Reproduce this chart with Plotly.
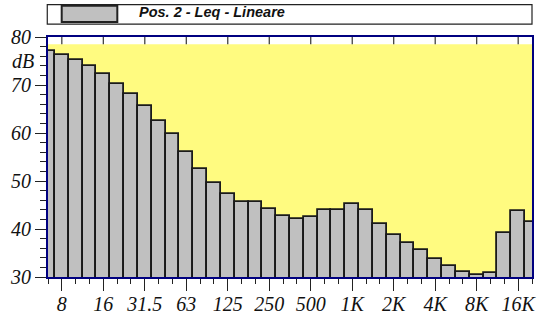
import plotly.graph_objects as go

# 1/3-octave band centres (Hz) and their labels
bands = ["6.3", "8", "10", "12.5", "16", "20", "25", "31.5", "40", "50",
         "63", "80", "100", "125", "160", "200", "250", "315", "400", "500",
         "630", "800", "1K", "1.25K", "1.6K", "2K", "2.5K", "3.15K", "4K", "5K",
         "6.3K", "8K", "10K", "12.5K", "16K", "20K"]
leq_db = [77.1, 76.2, 75.3, 73.9, 72.2, 70.3, 68.2, 65.7, 62.6, 59.7,
          56.0, 52.6, 49.5, 47.2, 45.6, 45.6, 44.1, 42.7, 42.0, 42.6,
          43.9, 43.9, 45.2, 44.0, 41.1, 38.8, 37.0, 35.6, 33.8, 32.2,
          31.0, 30.35, 30.8, 39.2, 43.75, 41.5]
tick_labels = ["8", "16", "31.5", "63", "125", "250", "500", "1K", "2K", "4K", "8K", "16K"]
y_ticks = [30, 40, 50, 60, 70, 80]
series_name = "Pos. 2 - Leq - Lineare"
y_unit = "dB"

x_idx = list(range(len(bands)))
tick_idx = [bands.index(t) for t in tick_labels]

serif = dict(family="Liberation Serif", size=20, color="#111", style="italic")
navy = "#000080"

fig = go.Figure()
fig.add_trace(go.Bar(
    x=x_idx, y=leq_db, name=series_name, width=1,
    marker=dict(color="#c0c0c0", line=dict(color="#1a1a1a", width=1.8)),
    showlegend=False, hovertext=bands,
))

shapes = []
# yellow plotting area (below the top band)
shapes.append(dict(type="rect", xref="paper", yref="y", x0=0, x1=1, y0=30, y1=78.5,
                   fillcolor="#fffb80", line=dict(width=0), layer="below"))
# top band dividers at octave marks
for t in tick_idx:
    shapes.append(dict(type="line", xref="x", yref="y", x0=t, x1=t, y0=78.5, y1=80,
                       line=dict(color="#333", width=1.2), layer="above"))
# legend frame and swatch
shapes.append(dict(type="rect", xref="paper", yref="paper", x0=-0.0015, x1=1.0, y0=1.054, y1=1.1346,
                   fillcolor="white", line=dict(color="#222", width=1.2)))
shapes.append(dict(type="rect", xref="paper", yref="paper", x0=0.0283, x1=0.1432, y0=1.0625, y1=1.1300,
                   fillcolor="#c0c0c0", line=dict(color="#222", width=2)))

fig.update_layout(
    width=540, height=325,
    margin=dict(l=48, r=8, t=37, b=48),
    paper_bgcolor="white", plot_bgcolor="white",
    bargap=0, shapes=shapes,
    annotations=[
        dict(text=series_name, xref="paper", yref="paper", x=0.184, y=1.104,
             xanchor="left", yanchor="middle", showarrow=False,
             font=dict(family="Liberation Sans, Arial, sans-serif", size=14.5, color="#111",
                       weight="bold", style="italic")),
        dict(text=y_unit, xref="paper", yref="y", x=0, y=75, xanchor="right", yanchor="middle",
             xshift=-12, showarrow=False, font=serif),
    ],
)
fig.update_xaxes(
    range=[0, len(bands) - 1], tickmode="array", tickvals=tick_idx, ticktext=tick_labels,
    ticks="outside", ticklen=12, tickwidth=1.3, tickcolor="#222", ticklabelstandoff=-4,
    minor=dict(tickmode="linear", tick0=0, dtick=1, ticks="outside", ticklen=5, tickwidth=1.3, tickcolor="#222"),
    showline=True, linecolor=navy, linewidth=2, mirror=True, automargin=False,
    showgrid=False, zeroline=False, tickfont=serif,
)
fig.update_yaxes(
    range=[30, 80], tickmode="array", tickvals=y_ticks,
    ticks="outside", ticklen=11, tickwidth=1.3, tickcolor="#222",
    minor=dict(tickmode="linear", tick0=30, dtick=2, ticks="outside", ticklen=6, tickwidth=1.3, tickcolor="#222"),
    showline=True, linecolor=navy, linewidth=2, mirror=True, automargin=False,
    showgrid=False, zeroline=False, tickfont=serif,
)
fig.write_html("out.html", config={"displayModeBar": False},
               post_script="document.body.style.margin='0';document.body.style.overflow='hidden';")
